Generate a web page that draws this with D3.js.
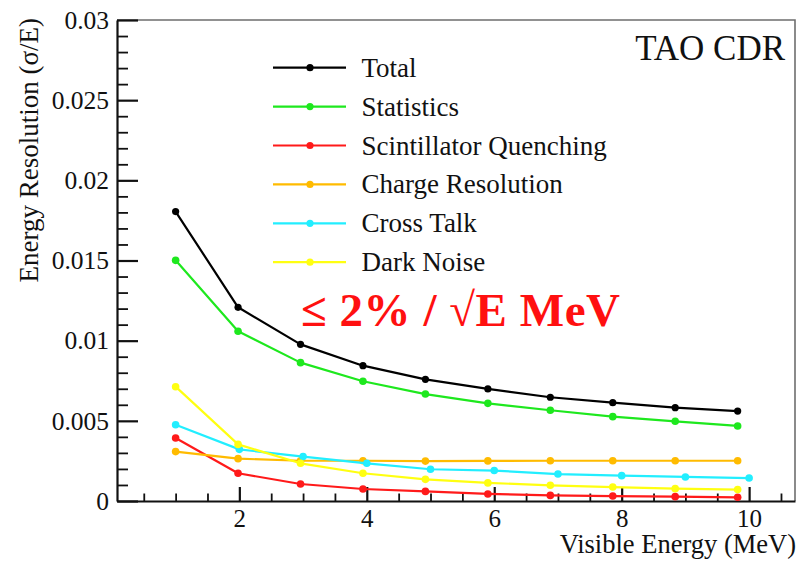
<!DOCTYPE html>
<html>
<head>
<meta charset="utf-8">
<script src="https://cdn.jsdelivr.net/npm/d3@7"></script>
<style>
  html, body { margin: 0; padding: 0; background: #fff; }
  svg { display: block; }
</style>
</head>
<body>
<svg id="chart" width="799" height="561"></svg>
<script>
// Energy points (MeV) shared by most components; cross talk is sampled at integer energies
const energies = [1.0, 1.98, 2.96, 3.94, 4.92, 5.90, 6.88, 7.86, 8.84, 9.82];
const energiesCrossTalk = [1, 2, 3, 4, 5, 6, 7, 8, 9, 10];

// Energy resolution sigma/E for each contribution
const totalRes      = [0.01805, 0.01208, 0.00977, 0.00844, 0.00759, 0.00699, 0.00647, 0.00613, 0.00582, 0.00561];
const statisticsRes = [0.01501, 0.01059, 0.00863, 0.00747, 0.00667, 0.00609, 0.00566, 0.00526, 0.00497, 0.00468];
const quenchingRes  = [0.00393, 0.00173, 0.00106, 0.00075, 0.00060, 0.00044, 0.00035, 0.00031, 0.00027, 0.00023];
const chargeRes     = [0.00308, 0.00264, 0.00251, 0.00251, 0.00249, 0.00250, 0.00251, 0.00251, 0.00251, 0.00251];
const crossTalkRes  = [0.00476, 0.00322, 0.00277, 0.00235, 0.00198, 0.00190, 0.00168, 0.00158, 0.00150, 0.00143];
const darkNoiseRes  = [0.00713, 0.00353, 0.00235, 0.00173, 0.00135, 0.00113, 0.00098, 0.00087, 0.00077, 0.00071];

const seriesNames = ["Total", "Statistics", "Scintillator Quenching", "Charge Resolution", "Cross Talk", "Dark Noise"];
const seriesColors = ["#000000", "#1ee81e", "#ff1a1a", "#ffbb00", "#22eeff", "#ffff11"];

const xTickValues = [2, 4, 6, 8, 10];
const yTickValues = [0, 0.005, 0.01, 0.015, 0.02, 0.025, 0.03];
const yTickLabels = ["0", "0.005", "0.01", "0.015", "0.02", "0.025", "0.03"];

const xTitle = "Visible Energy (MeV)";
const yTitle = "Energy Resolution (\u03C3/E)";
const tagText = "TAO CDR";
const noteText = "\u2264 2% / \u221AE MeV";

const FONT = "Liberation Serif";

const svg = d3.select("#chart");

const plot = { left: 117, right: 795, top: 20, bottom: 501 };

const x = d3.scaleLinear().domain([0.08, 10.72]).range([plot.left, plot.right]);
const y = d3.scaleLinear().domain([0, 0.03]).range([plot.bottom, plot.top]);

// frame: gray top and right edges
svg.append("path")
  .attr("d", `M${plot.left},${plot.top}H${plot.right}V${plot.bottom}`)
  .attr("fill", "none")
  .attr("stroke", "#6e6e6e")
  .attr("stroke-width", 1.6);

// minor ticks
const xMinor = d3.range(0.5, 10.51, 0.5).filter(v => Math.abs(v % 2) > 1e-6);
const yMinor = d3.range(0.001, 0.0300001, 0.001).filter(v => Math.abs((v / 0.005) - Math.round(v / 0.005)) > 1e-6);

svg.append("g")
  .attr("transform", `translate(0,${plot.bottom})`)
  .call(d3.axisBottom(x).tickValues(xMinor).tickSize(-7.5).tickSizeOuter(0).tickFormat(""))
  .call(g => g.select(".domain").remove())
  .call(g => g.selectAll("line").attr("stroke", "#111").attr("stroke-width", 1.8));

svg.append("g")
  .attr("transform", `translate(${plot.left},0)`)
  .call(d3.axisLeft(y).tickValues(yMinor).tickSize(-11).tickSizeOuter(0).tickFormat(""))
  .call(g => g.select(".domain").remove())
  .call(g => g.selectAll("line").attr("stroke", "#111").attr("stroke-width", 1.8));

// major axes
const xAxis = svg.append("g")
  .attr("transform", `translate(0,${plot.bottom})`)
  .call(d3.axisBottom(x).tickValues(xTickValues).tickSize(-14).tickSizeOuter(0).tickPadding(8).tickFormat(d3.format("d")));

const yAxis = svg.append("g")
  .attr("transform", `translate(${plot.left},0)`)
  .call(d3.axisLeft(y).tickValues(yTickValues).tickSize(-21).tickSizeOuter(0).tickPadding(8)
    .tickFormat((d, i) => yTickLabels[i]));

[xAxis, yAxis].forEach(ax => {
  ax.attr("font-family", FONT).attr("font-size", 25.5);
  ax.select(".domain").attr("stroke", "#111").attr("stroke-width", 2.2);
  ax.selectAll(".tick line").attr("stroke", "#111").attr("stroke-width", 2.2);
  ax.selectAll(".tick text").attr("fill", "#111");
});
xAxis.attr("font-size", 25);

// axis titles
svg.append("text")
  .attr("x", 796).attr("y", 553)
  .attr("text-anchor", "end")
  .attr("fill", "#111")
  .attr("font-family", FONT)
  .attr("font-size", 26.5)
  .text(xTitle);

svg.append("text")
  .attr("transform", "translate(38,18) rotate(-90)")
  .attr("text-anchor", "end")
  .attr("fill", "#111")
  .attr("font-family", FONT)
  .attr("font-size", 27)
  .text(yTitle);

// series
const seriesData = [
  { name: seriesNames[0], color: seriesColors[0], xs: energies, ys: totalRes, r: 3.6 },
  { name: seriesNames[1], color: seriesColors[1], xs: energies, ys: statisticsRes, r: 3.8 },
  { name: seriesNames[2], color: seriesColors[2], xs: energies, ys: quenchingRes, r: 3.8 },
  { name: seriesNames[3], color: seriesColors[3], xs: energies, ys: chargeRes, r: 3.8 },
  { name: seriesNames[4], color: seriesColors[4], xs: energiesCrossTalk, ys: crossTalkRes, r: 3.8 },
  { name: seriesNames[5], color: seriesColors[5], xs: energies, ys: darkNoiseRes, r: 3.8 }
];

const line = d3.line().x(d => x(d[0])).y(d => y(d[1]));

seriesData.forEach(s => {
  const pts = s.xs.map((v, k) => [v, s.ys[k]]);
  const g = svg.append("g");
  g.append("path")
    .attr("d", line(pts))
    .attr("fill", "none")
    .attr("stroke", s.color)
    .attr("stroke-width", 2.2)
    .attr("stroke-linejoin", "round");
  g.selectAll("circle").data(pts).join("circle")
    .attr("cx", d => x(d[0]))
    .attr("cy", d => y(d[1]))
    .attr("r", s.r)
    .attr("fill", s.color);
});

// legend
const legend = svg.append("g");
seriesData.forEach((s, i) => {
  const ry = 67.7 + i * 38.9;
  legend.append("line")
    .attr("x1", 273).attr("x2", 346).attr("y1", ry).attr("y2", ry)
    .attr("stroke", s.color).attr("stroke-width", 2.2);
  legend.append("circle")
    .attr("cx", 310).attr("cy", ry).attr("r", 3.6).attr("fill", s.color);
  legend.append("text")
    .attr("x", 361.5).attr("y", ry + 9)
    .attr("fill", "#111")
    .attr("font-family", FONT)
    .attr("font-size", 27)
    .text(s.name);
});

// labels
svg.append("text")
  .attr("x", 785).attr("y", 60)
  .attr("text-anchor", "end")
  .attr("fill", "#111")
  .attr("font-family", FONT)
  .attr("font-size", 35)
  .text(tagText);

svg.append("text")
  .attr("x", 301).attr("y", 326)
  .attr("fill", "#ff1010")
  .attr("font-family", FONT)
  .attr("font-size", 47)
  .attr("font-weight", "bold")
  .attr("textLength", 319)
  .attr("lengthAdjust", "spacing")
  .text(noteText);
</script>
</body>
</html>
